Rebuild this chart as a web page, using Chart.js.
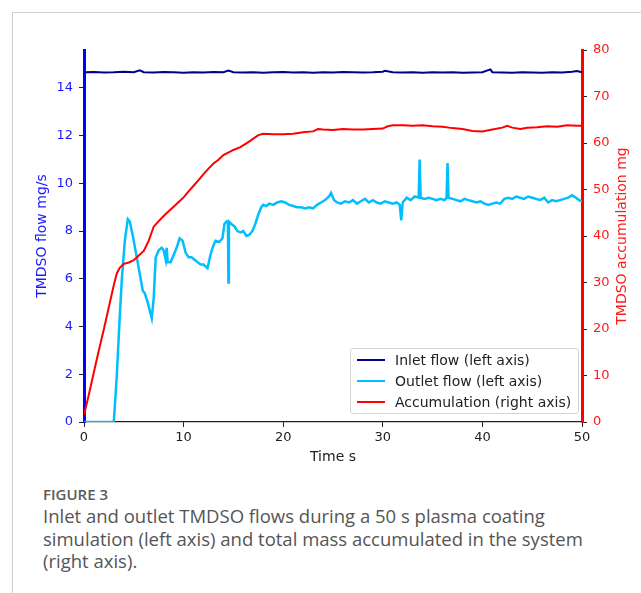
<!DOCTYPE html>
<html lang="en">
<head>
<meta charset="UTF-8" />
<title>Figure 3 - TMDSO flows</title>
<script src="https://cdn.jsdelivr.net/npm/chart.js"></script>
<style>
	body {
		margin: 0;
		width: 641px;
		height: 593px;
		position: relative;
		overflow: hidden;
		background: #fff;
		font-family: "DejaVu Sans", sans-serif;
	}
	.moldura {
		position: absolute;
		left: 12px;
		top: 12px;
		right: -2px;
		bottom: -2px;
		border-top: 1px solid #cfcfcf;
		border-left: 1px solid #cfcfcf;
	}
	#grafico {
		position: absolute;
		left: 0;
		top: 0;
	}
	.legenda {
		position: absolute;
		left: 350px;
		top: 348px;
		width: 227px;
		height: 64px;
		border: 1px solid #d4d4d4;
		border-radius: 3px;
		background: rgba(255, 255, 255, 0.85);
		font-size: 14px;
		color: #222;
	}
	.legenda .item {
		position: absolute;
		left: 0;
		height: 20px;
		line-height: 20px;
		white-space: nowrap;
	}
	.legenda .traco {
		position: absolute;
		left: 6px;
		width: 28px;
	}
	.legenda .texto {
		position: absolute;
		left: 44px;
	}
	.legenda-titulo {
		position: absolute;
		left: 43px;
		top: 484px;
		width: 590px;
		color: #555;
		font-family: "Open Sans", sans-serif;
	}
	.legenda-titulo h4 {
		margin: 0 0 1px 0;
		font-size: 15px;
		font-weight: 600;
		color: #5a5a5a;
	}
	.legenda-titulo p {
		margin: 0;
		font-size: 18.5px;
		line-height: 22.5px;
		white-space: nowrap;
	}
</style>
</head>
<body>
	<div class="moldura"></div>
	<canvas id="grafico" width="641" height="470"></canvas>
	<div class="legenda" id="legenda"></div>
	<div class="legenda-titulo">
		<h4>FIGURE 3</h4>
		<p>Inlet and outlet TMDSO flows during a 50 s plasma coating<br />simulation (left axis) and total mass accumulated in the system<br />(right axis).</p>
	</div>
	<script>
		// valores
		const INLET_T = [0, 1, 2, 3, 4, 5, 5.6, 6, 7, 8, 9, 10, 11, 12, 13, 14, 14.5, 15, 16, 17, 18, 19, 20, 21, 22, 23, 24, 25, 26, 27, 28, 29, 30, 30.2, 31, 32, 33, 34, 35, 36, 37, 38, 39, 40, 40.8, 41, 42, 43, 44, 45, 46, 47, 48, 49, 49.5, 50];
		const INLET_V = [14.66, 14.67, 14.65, 14.66, 14.68, 14.66, 14.74, 14.66, 14.65, 14.67, 14.66, 14.64, 14.66, 14.65, 14.67, 14.66, 14.73, 14.66, 14.65, 14.66, 14.64, 14.66, 14.67, 14.65, 14.66, 14.64, 14.66, 14.65, 14.67, 14.66, 14.65, 14.66, 14.68, 14.72, 14.66, 14.65, 14.66, 14.64, 14.66, 14.65, 14.66, 14.64, 14.65, 14.66, 14.78, 14.66, 14.65, 14.64, 14.66, 14.65, 14.64, 14.66, 14.65, 14.68, 14.71, 14.66];

		const OUTLET_T = [0, 2.9, 3.0, 3.3, 3.6, 3.8, 4.1, 4.4, 4.6, 4.9, 5.3, 5.6, 5.9, 6.1, 6.4, 6.8, 7.0, 7.2, 7.5, 7.8, 8.0, 8.2, 8.3, 8.4, 8.7, 9.0, 9.3, 9.6, 9.9, 10.2, 10.5, 10.8, 11.1, 11.4, 11.7, 12.0, 12.4, 12.7, 12.9, 13.2, 13.6, 13.9, 14.1, 14.3, 14.45, 14.5, 14.55, 14.8, 15.1, 15.4, 15.7, 16.0, 16.3, 16.6, 16.9, 17.2, 17.5, 17.8, 18.0, 18.3, 18.6, 19.0, 19.4, 19.8, 20.2, 20.6, 21.0, 21.4, 21.8, 22.2, 22.6, 23.0, 23.4, 23.8, 24.2, 24.6, 24.8, 25.1, 25.4, 25.8, 26.2, 26.6, 27.0, 27.4, 27.8, 28.2, 28.6, 29.0, 29.4, 29.8, 30.2, 30.6, 31.0, 31.4, 31.7, 31.85, 32.0, 32.4, 32.8, 33.2, 33.6, 33.7, 33.8, 34.2, 34.6, 35.0, 35.4, 35.8, 36.2, 36.4, 36.5, 36.6, 37.0, 37.4, 37.8, 38.2, 38.6, 39.0, 39.4, 39.8, 40.2, 40.6, 41.0, 41.4, 41.8, 42.2, 42.6, 43.0, 43.4, 43.8, 44.2, 44.6, 45.0, 45.4, 45.8, 46.2, 46.6, 47.0, 47.4, 47.8, 48.2, 48.6, 49.0, 49.4, 49.7, 50.0];
		const OUTLET_V = [0, 0, 0.05, 2.0, 4.5, 6.0, 7.6, 8.5, 8.4, 7.8, 6.9, 6.2, 5.5, 5.4, 5.0, 4.35, 5.2, 6.9, 7.2, 7.3, 7.2, 6.8, 7.3, 6.7, 6.7, 7.0, 7.3, 7.7, 7.6, 7.1, 6.9, 6.9, 6.8, 6.7, 6.6, 6.6, 6.45, 7.0, 7.3, 7.6, 7.55, 7.7, 8.3, 8.4, 8.35, 5.85, 8.4, 8.3, 8.2, 8.0, 7.95, 8.0, 7.8, 7.85, 8.0, 8.3, 8.7, 9.0, 9.1, 9.05, 9.15, 9.1, 9.2, 9.25, 9.2, 9.1, 9.05, 9.0, 9.0, 8.95, 9.0, 8.95, 9.1, 9.2, 9.3, 9.45, 9.6, 9.3, 9.2, 9.15, 9.25, 9.2, 9.3, 9.15, 9.25, 9.35, 9.2, 9.3, 9.2, 9.15, 9.25, 9.2, 9.15, 9.2, 9.1, 8.45, 9.2, 9.4, 9.3, 9.45, 9.4, 11.0, 9.4, 9.35, 9.4, 9.35, 9.3, 9.35, 9.3, 9.4, 10.85, 9.4, 9.35, 9.3, 9.25, 9.35, 9.3, 9.25, 9.2, 9.25, 9.15, 9.1, 9.15, 9.2, 9.15, 9.35, 9.4, 9.35, 9.45, 9.4, 9.35, 9.45, 9.4, 9.35, 9.3, 9.4, 9.2, 9.3, 9.25, 9.3, 9.35, 9.4, 9.5, 9.4, 9.3, 9.25];

		const ACC_T = [0, 0.5, 1, 1.5, 2, 2.5, 3, 3.3, 3.6, 4.0, 4.5, 5.0, 5.5, 6.0, 6.5, 7.0, 7.5, 8.0, 8.5, 9.0, 9.5, 10.0, 10.5, 11.0, 11.5, 12.0, 12.5, 13.0, 13.5, 14.0, 15.0, 15.7, 16.5, 17.5, 18, 19, 20, 21, 22, 23, 23.5, 24, 25, 26, 27, 28, 29, 30, 30.5, 31, 32, 33, 34, 35, 36, 37, 38, 39, 40, 41, 42, 42.5, 43, 43.8, 44.5, 45.5, 46.5, 47.5, 48.5, 49.5, 50];
		const ACC_V = [1.5, 6, 10.8, 15.5, 20, 24.8, 29.5, 32, 33.2, 34, 34.3, 34.8, 35.8, 36.8, 39, 42, 43.2, 44.3, 45.3, 46.3, 47.3, 48.3, 49.6, 50.8, 52, 53.3, 54.5, 55.6, 56.4, 57.4, 58.5, 59.1, 60.2, 61.7, 62, 61.9, 61.9, 62, 62.3, 62.5, 63, 62.9, 62.8, 63, 62.9, 62.9, 63, 63.1, 63.6, 63.8, 63.8, 63.7, 63.8, 63.6, 63.5, 63.2, 63, 62.6, 62.5, 62.9, 63.3, 63.7, 63.3, 63, 63.3, 63.4, 63.6, 63.5, 63.8, 63.7, 63.7];

		const FLOW_TICKS = [0, 2, 4, 6, 8, 10, 12, 14];
		const ACC_TICKS = [0, 10, 20, 30, 40, 50, 60, 70, 80];
		const TIME_TICKS = [0, 10, 20, 30, 40, 50];
		const TITULO_DIREITA = "TMDSO accumulation mg";

		const pares = (ts, vs) => ts.map((t, i) => ({ x: t, y: vs[i] }));

		const AZUL = "#1a1aff";
		const VERMELHO = "#ff1a1a";
		const fonteTick = { family: "DejaVu Sans", size: 13 };
		const fonteTitulo = { family: "DejaVu Sans", size: 14 };

		const fixarTicks = (lista) => (scale) => {
			scale.ticks = lista.map((v) => ({ value: v }));
		};

		// titulo do eixo direito lido de baixo para cima, como no original
		const tituloDireita = {
			id: "tituloDireita",
			afterDraw(chart) {
				const s = chart.scales.yAcc;
				const ctx = chart.ctx;
				ctx.save();
				ctx.translate(s.right - 12, (s.top + s.bottom) / 2);
				ctx.rotate(-Math.PI / 2);
				ctx.textAlign = "center";
				ctx.textBaseline = "middle";
				ctx.fillStyle = VERMELHO;
				ctx.font = "14px 'DejaVu Sans'";
				ctx.fillText(TITULO_DIREITA, 0, 0);
				ctx.restore();
			},
		};

		const chart = new Chart(document.getElementById("grafico"), {
			type: "line",
			data: {
				datasets: [
					{
						label: "Inlet flow (left axis)",
						data: pares(INLET_T, INLET_V),
						borderColor: "#00008b",
						borderWidth: 2,
						yAxisID: "yFlow",
						order: 2,
					},
					{
						label: "Outlet flow (left axis)",
						data: pares(OUTLET_T, OUTLET_V),
						borderColor: "#00bfff",
						borderWidth: 2.5,
						yAxisID: "yFlow",
						order: 1,
					},
					{
						label: "Accumulation (right axis)",
						data: pares(ACC_T, ACC_V),
						borderColor: "#ff0000",
						borderWidth: 2,
						yAxisID: "yAcc",
						order: 0,
					},
				],
			},
			options: {
				responsive: false,
				animation: false,
				layout: { padding: { left: 30, right: 7, top: 50, bottom: 0 } },
				elements: { point: { radius: 0 }, line: { tension: 0 } },
				plugins: { legend: { display: false }, tooltip: { enabled: false } },
				scales: {
					x: {
						type: "linear",
						min: 0,
						max: 50,
						afterBuildTicks: fixarTicks(TIME_TICKS),
						afterFit: (s) => { s.height = 48; },
						border: { color: "#222", width: 1.2 },
						grid: { drawOnChartArea: false, tickLength: 5, tickColor: "#222" },
						ticks: { color: "#222", font: fonteTick, padding: 3, maxRotation: 0 },
						title: { display: true, text: "Time s", color: "#222", font: fonteTitulo, padding: { top: 0, bottom: 4 } },
					},
					yFlow: {
						type: "linear",
						position: "left",
						min: 0,
						max: 15.59,
						afterBuildTicks: fixarTicks(FLOW_TICKS),
						afterFit: (s) => { s.width = 54; },
						border: { color: "#0000ff", width: 3 },
						grid: { drawOnChartArea: false, tickLength: 5, tickColor: "#222" },
						ticks: { color: AZUL, font: fonteTick, padding: 6 },
						title: { display: true, text: "TMDSO flow mg/s", color: AZUL, font: fonteTitulo, padding: { top: 4, bottom: 0 } },
					},
					yAcc: {
						type: "linear",
						position: "right",
						min: 0,
						max: 80,
						afterBuildTicks: fixarTicks(ACC_TICKS),
						afterFit: (s) => { s.width = 52; },
						border: { color: "#ff0000", width: 3 },
						grid: { drawOnChartArea: false, tickLength: 5, tickColor: "#222" },
						ticks: { color: VERMELHO, font: fonteTick, padding: 6 },
						title: { display: false },
					},
				},
			},
			plugins: [tituloDireita],
		});

		// legenda dentro da area do grafico, montada a partir dos datasets
		const legenda = document.getElementById("legenda");
		chart.data.datasets.forEach((ds, i) => {
			const item = document.createElement("div");
			item.className = "item";
			item.style.top = 1 + i * 21 + "px";
			item.style.width = "100%";
			const traco = document.createElement("span");
			traco.className = "traco";
			traco.style.top = 10 - ds.borderWidth / 2 + "px";
			traco.style.height = ds.borderWidth + "px";
			traco.style.background = ds.borderColor;
			const texto = document.createElement("span");
			texto.className = "texto";
			texto.textContent = ds.label;
			item.appendChild(traco);
			item.appendChild(texto);
			legenda.appendChild(item);
		});
	</script>
</body>
</html>
